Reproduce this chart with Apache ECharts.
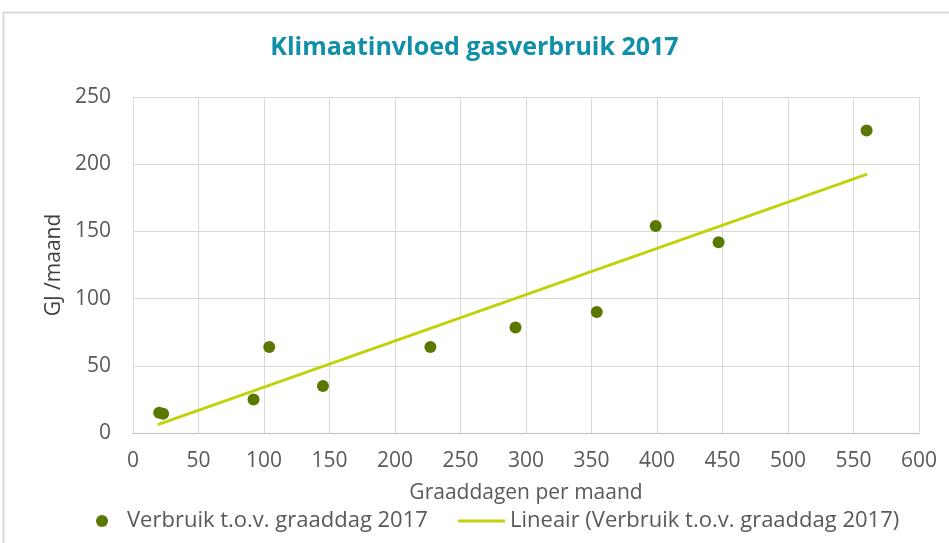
<!DOCTYPE html>
<html>
<head>
<meta charset="utf-8">
<script src="https://cdn.jsdelivr.net/npm/echarts@6/dist/echarts.min.js"></script>
<style>
    html, body { margin: 0; padding: 0; background: #fff; }
    #chart { width: 949px; height: 543px; }
</style>
</head>
<body>
<div id="chart"></div>
<script>
// gegevens
var graaddagen = [20, 23, 92, 104, 145, 227, 292, 354, 399, 447, 560];
var verbruik = [15, 14.4, 25, 64, 35, 64, 78.5, 90, 154, 142, 225];
// trendlijn (Excel lineair) begin- en eindpunt
var trendX = [19, 560.5];
var trendY = [6.2, 192.6];
var xTicks = { min: 0, max: 600, interval: 50 };
var yTicks = { min: 0, max: 250, interval: 50 };

(function () {
    var myChart = echarts.init(document.getElementById('chart'));

    var punten = graaddagen.map(function (x, i) { return [x, verbruik[i]]; });
    var trend = trendX.map(function (x, i) { return [x, trendY[i]]; });
    var font = 'Open Sans';

    var option = {
        animation: false,
        title: {
            text: 'Klimaatinvloed gasverbruik 2017',
            left: 'center',
            top: 30,
            textStyle: { color: '#0f8fa8', fontSize: 25, fontWeight: 'bold', fontFamily: font }
        },
        graphic: [{
            type: 'rect',
            shape: { x: 3.5, y: 12.5, width: 1000, height: 600 },
            style: { fill: 'none', stroke: '#d9d9d9', lineWidth: 2 },
            silent: true
        }],
        grid: { left: 133, right: 30, top: 97, bottom: 110 },
        legend: [{
            data: ['Verbruik t.o.v. graaddag 2017'],
            left: 91,
            top: 505,
            itemWidth: 12,
            itemHeight: 12,
            textStyle: { color: '#595959', fontSize: 22, fontFamily: font, padding: [0, 0, 0, 14] }
        }, {
            data: ['Lineair (Verbruik t.o.v. graaddag 2017)'],
            left: 453,
            top: 505,
            icon: 'rect',
            itemWidth: 47,
            itemHeight: 3,
            textStyle: { color: '#595959', fontSize: 22, fontFamily: font }
        }],
        xAxis: {
            type: 'value',
            min: xTicks.min,
            max: xTicks.max,
            interval: xTicks.interval,
            name: 'Graaddagen per maand',
            nameLocation: 'middle',
            nameGap: 50,
            nameTextStyle: { color: '#595959', fontSize: 21, fontFamily: font },
            axisLine: { show: true, lineStyle: { color: '#bfbfbf' } },
            axisTick: { show: false },
            axisLabel: { color: '#595959', fontSize: 21, fontFamily: font, margin: 18 },
            splitLine: { show: true, lineStyle: { color: '#d9d9d9' } }
        },
        yAxis: {
            type: 'value',
            min: yTicks.min,
            max: yTicks.max,
            interval: yTicks.interval,
            name: 'GJ /maand',
            nameLocation: 'middle',
            nameGap: 68,
            nameRotate: 90,
            nameTextStyle: { color: '#404040', fontSize: 21, fontFamily: font },
            axisLine: { show: false },
            axisTick: { show: false },
            axisLabel: { color: '#595959', fontSize: 21, fontFamily: font, margin: 22 },
            splitLine: { show: true, lineStyle: { color: '#d9d9d9' } }
        },
        series: [{
            name: 'Verbruik t.o.v. graaddag 2017',
            type: 'scatter',
            data: punten,
            symbolSize: 12,
            itemStyle: { color: '#5a7800', opacity: 1 }
        }, {
            name: 'Lineair (Verbruik t.o.v. graaddag 2017)',
            type: 'line',
            data: trend,
            symbol: 'none',
            lineStyle: { color: '#c2d20a', width: 3 },
            itemStyle: { color: '#c2d20a' }
        }]
    };

    myChart.setOption(option);

    window.addEventListener('resize', function () {
        myChart.resize();
    });
})();
</script>
</body>
</html>
